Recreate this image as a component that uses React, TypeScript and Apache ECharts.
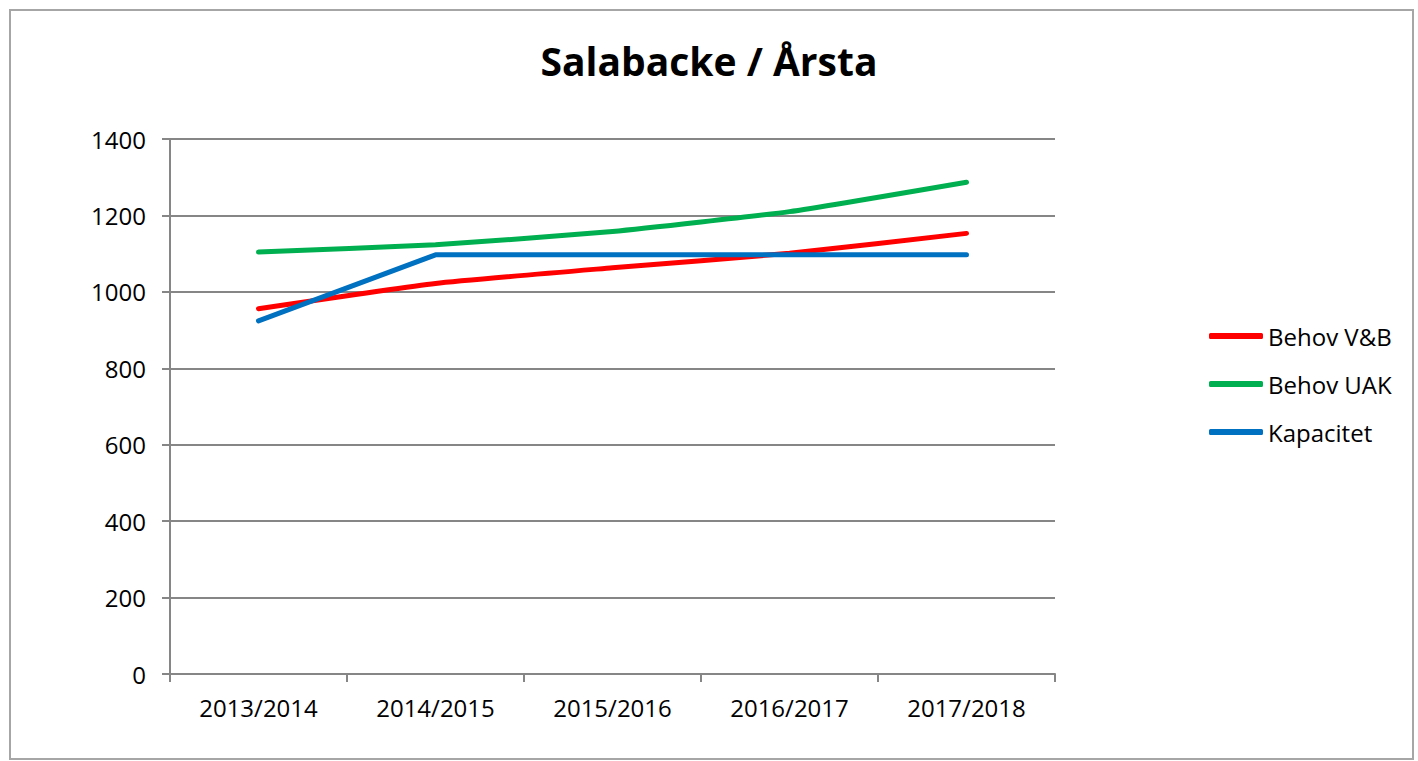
import React, { useEffect, useRef } from "react";
import * as echarts from "echarts";

const categories = ["2013/2014", "2014/2015", "2015/2016", "2016/2017", "2017/2018"];
const behovVB = [956, 1022, 1063, 1101, 1153];
const behovUAK = [1104, 1123, 1158, 1210, 1287];
const kapacitet = [924, 1097, 1097, 1097, 1097];

const FONT = "Open Sans";
const AXIS = "#868686";

export default function App() {
  const ref = useRef<HTMLDivElement>(null);
  useEffect(() => {
    const chart = echarts.init(ref.current!, null, { renderer: "svg" });
    const lineSeries = (name: string, data: number[], color: string, smooth: number | boolean) => ({
      name,
      type: "line",
      data,
      smooth,
      symbol: "none",
      lineStyle: { color, width: 5, cap: "round", join: "round" },
      itemStyle: { color },
    });
    chart.setOption({
      animation: false,
      backgroundColor: "#ffffff",
      textStyle: { fontFamily: FONT },
      graphic: [
        {
          type: "rect",
          shape: { x: 10, y: 10, width: 1403, height: 749 },
          style: { fill: "none", stroke: "#a6a6a6", lineWidth: 2 },
          silent: true,
        },
      ],
      title: {
        text: "Salabacke / Årsta",
        left: "center",
        top: 36,
        textStyle: { fontFamily: FONT, fontWeight: "bold", fontSize: 39, color: "#000" },
      },
      legend: {
        orient: "vertical",
        left: 1209,
        top: 324,
        padding: 0,
        itemWidth: 54,
        itemHeight: 6,
        itemGap: 24,
        icon: "roundRect",
        textStyle: { fontFamily: FONT, fontSize: 24, color: "#000" },
        data: ["Behov V&B", "Behov UAK", "Kapacitet"],
      },
      grid: { left: 170, right: 363, top: 139, bottom: 87, containLabel: false },
      xAxis: {
        type: "category",
        data: categories,
        boundaryGap: true,
        axisLine: { lineStyle: { color: AXIS, width: 2 } },
        axisTick: { show: true, length: 8, alignWithLabel: false, lineStyle: { color: AXIS, width: 2 } },
        axisLabel: { color: "#000", fontFamily: FONT, fontSize: 24, margin: 21 },
        splitLine: { show: false },
      },
      yAxis: {
        type: "value",
        min: 0,
        max: 1400,
        interval: 200,
        axisLine: { show: true, lineStyle: { color: AXIS, width: 2 } },
        axisTick: { show: true, length: 8, lineStyle: { color: AXIS, width: 2 } },
        axisLabel: {
          color: "#000",
          fontFamily: FONT,
          fontSize: 24,
          margin: 24,
          formatter: (v: number) => String(v),
        },
        splitLine: { show: true, lineStyle: { color: AXIS, width: 2 } },
      },
      series: [
        lineSeries("Behov V&B", behovVB, "#ff0000", 0.15),
        lineSeries("Behov UAK", behovUAK, "#00b050", 0.15),
        lineSeries("Kapacitet", kapacitet, "#0070c0", false),
      ],
    });
    return () => chart.dispose();
  }, []);
  return (
    <div
      ref={ref}
      style={{ position: "absolute", left: 0, top: 0, width: 1418, height: 761 }}
    />
  );
}
